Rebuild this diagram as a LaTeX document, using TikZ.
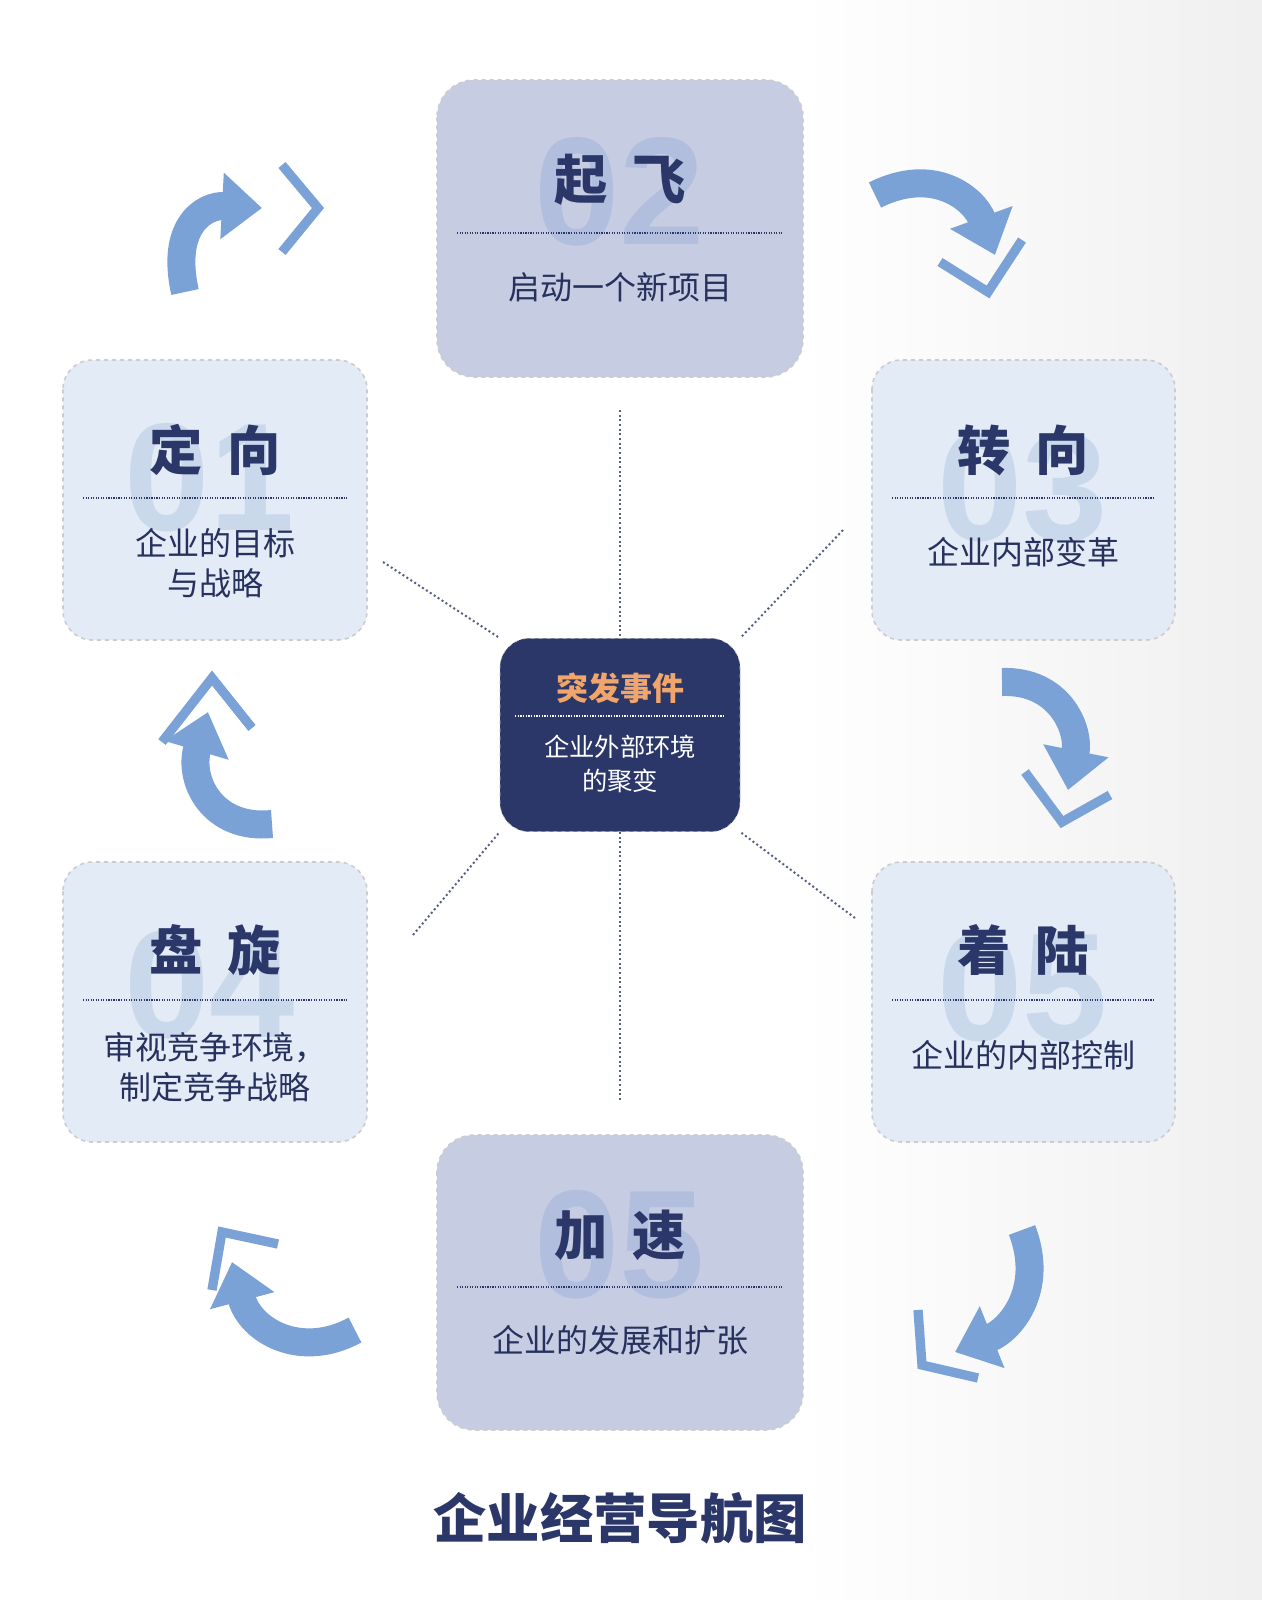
\documentclass[tikz,border=0pt]{standalone}
\usepackage{fontspec}
\setmainfont{Liberation Sans}
\newfontfamily\cjk{Noto Sans CJK SC}
\usetikzlibrary{arrows.meta}
\definecolor{navy}{HTML}{2B3768}
\definecolor{lav}{HTML}{C6CCE1}
\definecolor{lite}{HTML}{E3EBF6}
\definecolor{arr}{HTML}{7AA2D6}
\definecolor{orng}{HTML}{F2A56A}
\definecolor{numa}{HTML}{B2BEDD}
\definecolor{numb}{HTML}{CAD8EC}
\tikzset{
 boxa/.style={draw=gray!40,dashed,line width=1.2pt,fill=lav,rounded corners=28pt},
 boxb/.style={draw=gray!40,dashed,line width=1.2pt,fill=lite,rounded corners=22pt},
 big/.style={font=\fontsize{115}{115}\selectfont\bfseries,text=#1},
 head/.style={font=\cjk\bfseries\fontsize{40}{44}\selectfont,text=navy},
 sub/.style={font=\cjk\fontsize{24}{30}\selectfont,text=navy!90!black,align=center},
 sep/.style={navy,densely dotted,line width=0.9pt},
 conn/.style={navy!80,dotted,line width=1.5pt},
 carr/.style={arr,line width=21pt,-{Triangle[length=30pt,width=48pt]}},
 chev/.style={arr,line width=7pt,line join=miter},
}
\begin{document}
\begin{tikzpicture}[x=0.75pt,y=-0.75pt]
\useasboundingbox (0,0) rectangle (1262,1600);
\fill[white] (0,0) rectangle (1262,1600);
\shade[left color=white,right color=gray!12] (800,0) rectangle (1262,1600);
% connectors
\coordinate (t1) at (620,410); \coordinate (b1) at (620,1100);
\coordinate (l1) at (383,562); \coordinate (r1) at (843,530);
\coordinate (l2) at (413,935); \coordinate (r2) at (855,918);
\node[fill=navy,rounded corners=22pt,minimum width=180pt,minimum height=145pt,draw=gray!50,dashed] (c) at (620,735) {};
\draw[conn] (t1) -- (c.north);
\draw[conn] (b1) -- (c.south);
\draw[conn] (l1) -- (c.north west);
\draw[conn] (r1) -- (c.north east);
\draw[conn] (l2) -- (c.south west);
\draw[conn] (r2) -- (c.south east);
\node[font=\cjk\bfseries\fontsize{24}{26}\selectfont,text=orng] (ct) at (620,688) {突发事件};
\draw[white,densely dotted,line width=1pt] (515,716) -- (725,716);
\node[font=\cjk\fontsize{19}{26}\selectfont,text=white,align=center] (cs) at (620,764) {企业外部环境\\的聚变};
% top box
\draw[boxa] (437,80) rectangle (803,377);
\node[big=numa] (n2) at (620,192) {02};
\node[head] (h2) at (620,180) {起\ \ 飞};
\draw[sep] (457,233) -- (782,233);
\node[sub] (s2) at (620,287) {启动一个新项目};
% bottom box
\draw[boxa] (437,1135) rectangle (803,1430);
\node[big=numa] (n6) at (620,1245) {05};
\node[head] (h6) at (620,1235) {加\ \ 速};
\draw[sep] (457,1287) -- (782,1287);
\node[sub] (s6) at (620,1340) {企业的发展和扩张};
% left top
\draw[boxb] (63,360) rectangle (367,640);
\node[big=numb] (n1) at (210,478) {01};
\node[head] (h1) at (215,450) {定\ \ 向};
\draw[sep] (83,498) -- (347,498);
\node[sub] (s1) at (215,563) {企业的目标\\与战略};
% right top
\draw[boxb] (872,360) rectangle (1175,640);
\node[big=numb] (n3) at (1023,488) {03};
\node[head] (h3) at (1023,450) {转\ \ 向};
\draw[sep] (892,498) -- (1155,498);
\node[sub] (s3) at (1023,552) {企业内部变革};
% left bottom
\draw[boxb] (63,862) rectangle (367,1142);
\node[big=numb] (n4) at (210,985) {04};
\node[head] (h4) at (215,950) {盘\ \ 旋};
\draw[sep] (83,1000) -- (347,1000);
\node[sub] (s4) at (215,1067) {审视竞争环境，\\制定竞争战略};
% right bottom
\draw[boxb] (872,862) rectangle (1175,1142);
\node[big=numb] (n5) at (1023,988) {05};
\node[head] (h5) at (1023,950) {着\ \ 陆};
\draw[sep] (892,1000) -- (1155,1000);
\node[sub] (s5) at (1023,1055) {企业的内部控制};
% curved arrows
\draw[carr] (185,292) .. controls (170,225) and (205,205) .. (262,208);
\draw[chev] (282,165) -- (318,208) -- (282,252);
\draw[carr] (875,195) .. controls (935,165) and (975,200) .. (995,255);
\draw[chev] (940,262) -- (988,292) -- (1022,240);
\draw[carr] (1002,682) .. controls (1060,680) and (1080,730) .. (1068,790);
\draw[chev] (1025,772) -- (1062,822) -- (1110,795);
\draw[carr] (1022,1230) .. controls (1045,1290) and (1010,1330) .. (955,1352);
\draw[chev] (918,1310) -- (922,1365) -- (978,1378);
\draw[carr] (355,1330) .. controls (300,1360) and (250,1330) .. (232,1262);
\draw[chev] (212,1290) -- (222,1232) -- (278,1244);
\draw[carr] (272,824) .. controls (212,830) and (188,780) .. (208,712);
\draw[chev] (162,742) -- (212,678) -- (252,728);
% title
\node[font=\cjk\bfseries\fontsize{40}{44}\selectfont,text=navy] (title) at (620,1518) {企业经营导航图};
\end{tikzpicture}
\end{document}
